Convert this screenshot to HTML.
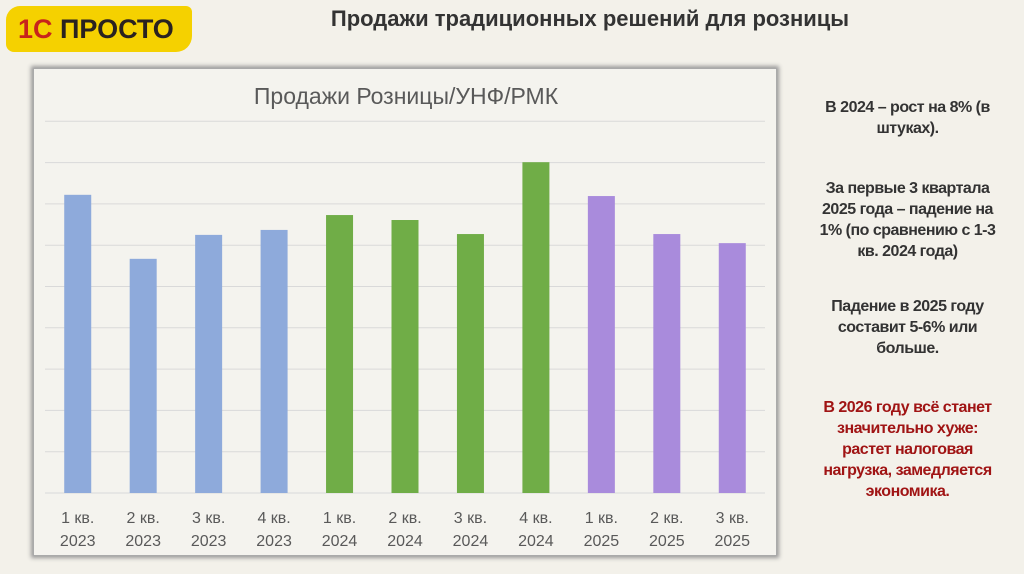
<!DOCTYPE html>
<html><head><meta charset="utf-8"><style>
body{margin:0;width:1024px;height:574px;background:#f3f1ea;position:relative;overflow:hidden;font-family:"Liberation Sans",sans-serif}
.logo{position:absolute;left:6px;top:6px;width:186px;height:46px;background:#f5d100;border-radius:14px 6px 16px 8px}
.logo span{position:absolute;left:12px;top:8px;font-weight:bold;font-size:27px;color:#2a2220;letter-spacing:0px;white-space:nowrap}
.logo b{color:#c8241b}
.title{position:absolute;left:250px;width:680px;top:6px;text-align:center;font-weight:bold;font-size:22px;color:#333;white-space:nowrap}
.box{position:absolute;left:33px;top:68px;width:742px;height:486px;background:#f4f3ee;box-shadow:0 0 4px 2px #999;border:1px solid #aaa}
.txt{position:absolute;left:795px;width:225px;text-align:center;font-weight:bold;font-size:16px;line-height:21px;color:#333;letter-spacing:-0.5px;white-space:nowrap}
.red{color:#a01414}
</style></head><body>
<div class="logo"><span><b>1C</b> ПРОСТО</span></div>
<div class="title">Продажи традиционных решений для розницы</div>
<div class="box"></div>
<svg id="chart" width="1024" height="574" style="position:absolute;left:0;top:0">
<text x="406" y="104" text-anchor="middle" font-size="23" fill="#595959" font-family="Liberation Sans, sans-serif">Продажи Розницы/УНФ/РМК</text>
</svg>
<div class="txt" style="top:97px">В 2024 – рост на 8% (в<br>штуках).</div>
<div class="txt" style="top:178px">За первые 3 квартала<br>2025 года – падение на<br>1% (по сравнению с 1-3<br>кв. 2024 года)</div>
<div class="txt" style="top:296px">Падение в 2025 году<br>составит 5-6% или<br>больше.</div>
<div class="txt red" style="top:397px">В 2026 году всё станет<br>значительно хуже:<br>растет налоговая<br>нагрузка, замедляется<br>экономика.</div>
<script>
const quarters=["1 кв.","2 кв.","3 кв.","4 кв.","1 кв.","2 кв.","3 кв.","4 кв.","1 кв.","2 кв.","3 кв."];
const years=["2023","2023","2023","2023","2024","2024","2024","2024","2025","2025","2025"];
const values=[7.22,5.67,6.25,6.37,6.73,6.61,6.27,8.01,7.19,6.27,6.05];
const gridTicks=[0,1,2,3,4,5,6,7,8,9];
const yearColors={"2023":"#8eaadb","2024":"#70ad47","2025":"#a98bdc"};
const svg=document.getElementById('chart');
const NS="http://www.w3.org/2000/svg";
const x0=45,x1=765,yBase=493,unit=41.3;
const step=(x1-x0)/quarters.length;
const xc=i=>x0+step*(i+0.5);
const y=v=>yBase-v*unit;
gridTicks.forEach(t=>{
 const l=document.createElementNS(NS,'line');
 l.setAttribute('x1',x0);l.setAttribute('x2',x1);
 l.setAttribute('y1',y(t));l.setAttribute('y2',y(t));
 l.setAttribute('stroke','#d9d9d9');l.setAttribute('stroke-width','1');
 
 
 svg.appendChild(l);
});
values.forEach((v,i)=>{
 const r=document.createElementNS(NS,'rect');
 const w=27;
 r.setAttribute('x',xc(i)-w/2);r.setAttribute('width',w);
 r.setAttribute('y',y(v));r.setAttribute('height',yBase-y(v));
 r.setAttribute('fill',yearColors[years[i]]);
 
 
 svg.appendChild(r);
 [[quarters[i],523],[years[i],546]].forEach(([s,yy])=>{
  const t=document.createElementNS(NS,'text');
  t.setAttribute('x',xc(i));t.setAttribute('y',yy);
  t.setAttribute('text-anchor','middle');t.setAttribute('font-size','16');
  t.setAttribute('fill','#595959');t.setAttribute('font-family','Liberation Sans, sans-serif');
  t.textContent=s;
  
  
  svg.appendChild(t);
 });
});
</script>
</body></html>
